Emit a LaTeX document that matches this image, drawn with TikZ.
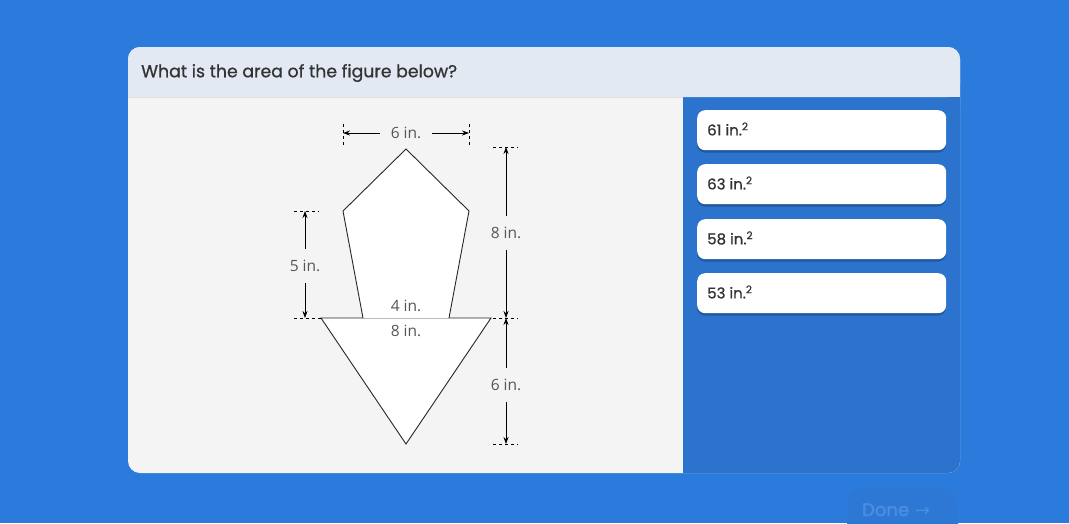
\documentclass[tikz,border=0pt]{standalone}
\usepackage{fontspec}
\setmainfont{Poppins}
\newfontfamily\popmed[FakeBold=0.8]{Poppins}
\newfontfamily\popbold[FakeBold=2.5]{Poppins}
\newfontfamily\figfont{Open Sans}
\newfontfamily\symfont{DejaVu Sans}
\usetikzlibrary{arrows.meta}
\definecolor{bgblue}{HTML}{2A7BDC}
\definecolor{panelblue}{HTML}{2B73CC}
\definecolor{headbg}{HTML}{E2E9F3}
\definecolor{bodybg}{HTML}{F4F4F4}
\definecolor{titletext}{HTML}{333333}
\definecolor{figtext}{HTML}{555555}
\definecolor{shadowblue}{HTML}{21599E}
\definecolor{donebg}{HTML}{2C78D4}
\definecolor{donetext}{HTML}{4A8EE0}
\tikzset{
  figshape/.style={draw=black!85, fill=white, line width=0.9pt, line join=miter},
  dimline/.style={black, line width=0.7pt, {Stealth[length=7pt,width=5pt]}-{Stealth[length=7pt,width=5pt]}},
  ext/.style={black, line width=0.7pt, dash pattern=on 3pt off 3pt},
  dimlabel/.style={font=\figfont\fontsize{15.5}{18}\selectfont, text=figtext, fill=bodybg, inner sep=3pt},
  vdimlabel/.style={dimlabel, minimum height=34pt},
  figlabel/.style={font=\figfont\fontsize{15.5}{18}\selectfont, text=figtext, inner sep=1pt},
  answer/.style={fill=white, rounded corners=8pt, minimum width=249pt, minimum height=40pt, anchor=north west, inner sep=0pt},
  anstext/.style={font=\popmed\fontsize{15}{17}\selectfont, text=titletext, anchor=west, inner sep=0pt}
}
\begin{document}
\begin{tikzpicture}[x=1pt,y=-1pt]
\useasboundingbox (0,0) rectangle (1069,523);
\fill[bgblue] (0,0) rectangle (1069,523);
% card
\fill[bodybg, rounded corners=12pt] (128,47) rectangle (960,473);
\fill[panelblue, rounded corners=12pt] (683,97) rectangle (960,473);
\fill[panelblue] (683,97) rectangle (900,473);
\fill[panelblue] (683,97) rectangle (960,200);
\fill[headbg, rounded corners=12pt] (128,47) rectangle (960,97);
\fill[headbg] (128,80) rectangle (960,97);
\draw[black!12, line width=0.6pt] (128,97) -- (683,97);
\node[font=\popmed\fontsize{17.3}{20}\selectfont, text=titletext, anchor=west, inner sep=0pt] (title) at (141,73) {What is the area of the figure below?};
% answers
\foreach \y/\t [count=\i] in {110/61, 164/63, 219/58, 273/53}{
  \fill[shadowblue, rounded corners=8pt] (697,\y+2.5) rectangle (946,\y+42.5);
  \node[answer] (ans\i) at (697,\y) {};
  \node[anstext] (anst\i) at (707,\y+19) {\t\ in.\textsuperscript{2}};
}
% done button
\fill[donebg, rounded corners=20pt] (847,487) rectangle (958,545);
\node[font=\popbold\fontsize{18}{20}\selectfont, text=donetext, anchor=base west, inner sep=0pt] (done) at (862,516) {Done\hspace{6pt}{\symfont\fontsize{18}{20}\selectfont →}};
% figure coordinates
\coordinate (P1) at (406,149);
\coordinate (P2) at (469,211);
\coordinate (P3) at (449,318);
\coordinate (P4) at (363,318);
\coordinate (P5) at (343,211);
\coordinate (T1) at (321,318);
\coordinate (T2) at (491,318);
\coordinate (T3) at (406,444);
\draw[figshape] (T1) -- (T2) -- (T3) -- cycle;
\draw[figshape] (P4) -- (P5) -- (P1) -- (P2) -- (P3);
% top dimension
\draw[ext] (343,124) -- (343,146);
\draw[ext] (469,124) -- (469,146);
\coordinate (TL) at (343,133);
\coordinate (TR) at (469,133);
\draw[dimline] (TL) -- (TR);
\node[dimlabel, minimum width=52pt] (lab6top) at (406,133) {6 in.};
% left dimension
\draw[ext] (294,211) -- (319,211);
\draw[ext] (294,318) -- (321,318);
\coordinate (LT) at (305,211);
\coordinate (LB) at (305,318);
\draw[dimline] (LT) -- (LB);
\node[vdimlabel] (lab5) at (305,266) {5 in.};
% right dimensions
\draw[ext] (493,147) -- (518,147);
\draw[ext] (493,318) -- (518,318);
\draw[ext] (493,444) -- (518,444);
\coordinate (RT) at (506,147);
\coordinate (RM) at (506,318);
\coordinate (RB) at (506,444);
\draw[dimline] (RT) -- (RM);
\node[vdimlabel] (lab8r) at (506,233) {8 in.};
\draw[dimline] (RM) -- (RB);
\node[vdimlabel] (lab6r) at (506,385) {6 in.};
% inner labels
\node[figlabel] (lab4) at (406,306) {4 in.};
\node[figlabel] (lab8) at (406,331) {8 in.};
\end{tikzpicture}
\end{document}
